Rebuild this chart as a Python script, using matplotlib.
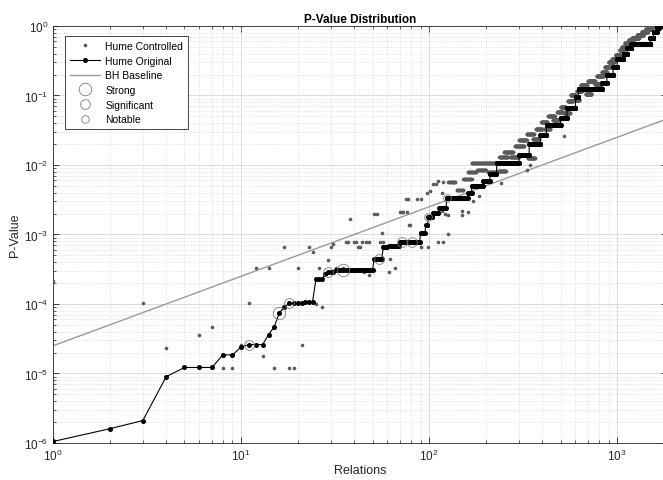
import numpy as np
import matplotlib
matplotlib.use("Agg")
import matplotlib.pyplot as plt
from matplotlib.lines import Line2D
from matplotlib.ticker import LogLocator, NullFormatter

plt.rcParams['font.family'] = ['Liberation Sans', 'DejaVu Sans']

# Hume Original: sorted p-values, written as (run length, level)
orig_counts = [1, 1, 1, 1, 3, 2, 1, 3, 1, 1, 1, 1, 4, 3, 3, 1, 3, 19, 6, 4, 9, 20,
               6, 3, 6, 8, 11, 37, 8, 25, 17, 18, 72, 40, 50, 30, 80, 40, 60, 22,
               208, 50, 70, 50, 80, 50, 60, 310, 60, 60, 40, 180]
orig_levels = [1.05e-6, 1.6e-6, 2.1e-6, 9.0e-6, 1.22e-5, 1.85e-5, 2.4e-5, 2.6e-5,
               3.6e-5, 4.7e-5, 7.5e-5, 9.0e-5, 1.02e-4, 1.08e-4, 2.25e-4, 2.7e-4,
               2.9e-4, 3.1e-4, 4.4e-4, 6.5e-4, 6.9e-4, 7.7e-4, 1.05e-3, 1.35e-3,
               1.8e-3, 2.05e-3, 2.4e-3, 3.3e-3, 4.0e-3, 4.9e-3, 5.8e-3, 7.5e-3,
               1.05e-2, 1.4e-2, 2.0e-2, 2.7e-2, 3.7e-2, 4.8e-2, 6.5e-2, 9.5e-2,
               0.125, 0.15, 0.2, 0.26, 0.33, 0.4, 0.48, 0.55, 0.68, 0.82, 0.92, 1.0]

# Hume Controlled: isolated points
ctrl_x = [1, 3, 4, 6, 7, 8, 9, 10, 11, 12, 13, 14, 15, 17, 18, 19, 20, 21, 23, 24,
          25, 26, 27, 29, 30, 31, 32, 35, 36, 37, 38, 40, 41, 42, 43, 44, 45, 46,
          48, 48, 51, 53, 55, 56, 57, 61, 62, 66, 70, 72, 73, 75, 76, 77, 78, 79,
          86, 90, 91, 97, 99, 101, 105, 109, 112, 112, 117, 117, 119, 119, 121,
          126, 126, 134, 149, 150, 160, 172, 185, 240, 330, 345, 520]
ctrl_y = [2.16e-4, 1.02e-4, 2.3e-5, 3.6e-5, 4.7e-5, 1.2e-5, 1.2e-5, 2.6e-5, 1.02e-4,
          3.3e-4, 1.8e-5, 3.3e-4, 1.2e-5, 6.5e-4, 1.2e-5, 1.2e-5, 3.3e-4, 2.55e-5,
          6.5e-4, 5.5e-4, 1.0e-4, 3.3e-4, 9.0e-5, 4.3e-4, 6.6e-4, 7.3e-4, 3.3e-4,
          3.3e-4, 7.7e-4, 7.7e-4, 1.67e-3, 7.7e-4, 7.7e-4, 6.6e-4, 6.7e-4, 7.7e-4,
          2.9e-4, 7.7e-4, 2.6e-4, 7.7e-4, 1.95e-3, 1.95e-3, 7.7e-4, 1.05e-3, 7.7e-4,
          2.9e-4, 4.5e-4, 3.3e-4, 2.1e-3, 2.1e-3, 2.1e-3, 3.2e-3, 2.1e-3, 3.2e-3,
          1.37e-3, 1.35e-3, 3.2e-3, 3.2e-3, 6.7e-4, 4.0e-3, 6.7e-4, 4.2e-3, 5.3e-3,
          5.3e-3, 7.7e-4, 5.9e-3, 2.2e-3, 4.0e-3, 7.7e-4, 5.6e-3, 2.0e-3, 1.9e-3,
          1.0e-3, 5.6e-3, 1.9e-3, 2.2e-3, 2.1e-3, 3.0e-3, 3.6e-3, 5.5e-3, 8.5e-3,
          1.0e-2, 2.6e-2]

# Hume Controlled: dense rows (first index, last index, p-value)
ctrl_row_start = [126, 140, 152, 160, 168, 180, 205, 232, 236, 250, 270, 285, 300,
                  335, 330, 355, 370, 395, 410, 430, 455, 480, 500, 520, 545, 565,
                  590, 610, 640, 680, 700, 760, 780, 830, 860, 900, 940, 980, 1030,
                  1060, 1100, 1150, 1200, 1280, 1350, 1420, 1480]
ctrl_row_end = [138, 152, 168, 178, 230, 200, 225, 255, 262, 280, 300, 320, 330,
                365, 360, 385, 400, 425, 440, 465, 490, 515, 530, 560, 580, 600,
                630, 650, 690, 730, 760, 820, 840, 880, 910, 960, 990, 1040, 1080,
                1120, 1160, 1220, 1300, 1380, 1450, 1520, 1840]
ctrl_row_level = [5.6e-3, 4.3e-3, 6.2e-3, 7.8e-3, 1.07e-2, 8.5e-3, 8.0e-3, 8.2e-3,
                  1.3e-2, 1.55e-2, 1.3e-2, 1.85e-2, 2.3e-2, 1.25e-2, 2.8e-2, 2.4e-2,
                  3.3e-2, 4.2e-2, 3.3e-2, 5.0e-2, 4.4e-2, 5.8e-2, 6.8e-2, 5.5e-2,
                  8.2e-2, 0.1, 0.085, 0.115, 0.14, 0.105, 0.16, 0.145, 0.19, 0.22,
                  0.26, 0.3, 0.34, 0.38, 0.45, 0.5, 0.56, 0.62, 0.68, 0.75, 0.82,
                  0.9, 1.0]

# BH baseline end points
bh_x = [1, 1840]
bh_y = [2.5e-5, 4.6e-2]

# highlighted relations (index into Hume Original)
strong_x = [16, 35]
signif_x = [11, 18, 29, 54, 72, 81]
notable_x = [99, 124]

orig_y = np.repeat(orig_levels, orig_counts)
orig_x = np.arange(1, len(orig_y) + 1)

cx = list(ctrl_x)
cy = list(ctrl_y)
for a, b, v in zip(ctrl_row_start, ctrl_row_end, ctrl_row_level):
    for i in range(a, b + 1):
        cx.append(i)
        cy.append(v)

fig = plt.figure(figsize=(6.63, 4.81), dpi=100)
ax = fig.add_axes([0.080, 0.077, 0.926, 0.867])

ax.plot(cx, cy, ls='none', marker='o', ms=2.6, mfc='#5a5a5a', mec='none', zorder=3)
ax.plot(orig_x, orig_y, color='black', lw=0.8, marker='o', ms=2.6, zorder=4)
ax.plot(bh_x, bh_y, color='#9a9a9a', lw=1.0, zorder=2)

circ = dict(ls='none', marker='o', mfc='none', mec='#7a7a7a', mew=0.6, zorder=5)
ax.plot(strong_x, orig_y[np.array(strong_x) - 1], ms=9, **circ)
ax.plot(signif_x, orig_y[np.array(signif_x) - 1], ms=7, **circ)
ax.plot(notable_x, orig_y[np.array(notable_x) - 1], ms=5.5, **circ)

ax.set_xscale('log')
ax.set_yscale('log')
ax.set_xlim(1, 1840)
ax.set_ylim(1e-6, 1)
ax.yaxis.set_major_locator(LogLocator(base=10, numticks=10))
ax.yaxis.set_minor_locator(LogLocator(base=10, subs=np.arange(2, 10), numticks=20))
ax.yaxis.set_minor_formatter(NullFormatter())
ax.xaxis.set_minor_formatter(NullFormatter())

ax.grid(True, which='major', color='#dadada', lw=0.7)
ax.grid(True, which='minor', color='#dedede', lw=0.6, ls=(0, (1.5, 1.5)))
ax.set_axisbelow(True)
ax.tick_params(which='both', direction='in', top=True, right=True,
               colors='#262626', labelcolor='#262626', labelsize=8.5)
ax.tick_params(which='major', length=4, width=0.6)
ax.tick_params(which='minor', length=2.2, width=0.5)
for s in ax.spines.values():
    s.set_color('#262626')
    s.set_linewidth(0.6)

ax.set_title('P-Value Distribution', fontsize=8.5, fontweight='bold', pad=3)
ax.set_xlabel('Relations', fontsize=9, color='#262626', labelpad=1)
ax.set_ylabel('P-Value', fontsize=9, color='#262626', labelpad=2)

handles = [
    Line2D([], [], ls='none', marker='o', ms=2.6, mfc='#5a5a5a', mec='none'),
    Line2D([], [], color='black', lw=0.8, marker='o', ms=2.6),
    Line2D([], [], color='#9a9a9a', lw=1.0),
    Line2D([], [], ls='none', marker='o', ms=9, mfc='none', mec='#7a7a7a', mew=0.6),
    Line2D([], [], ls='none', marker='o', ms=7, mfc='none', mec='#7a7a7a', mew=0.6),
    Line2D([], [], ls='none', marker='o', ms=5.5, mfc='none', mec='#7a7a7a', mew=0.6),
]
labels = ['Hume Controlled', 'Hume Original', 'BH Baseline', 'Strong', 'Significant', 'Notable']
leg = ax.legend(handles, labels, loc='upper left', bbox_to_anchor=(0.02, 0.975),
                fontsize=7.5, frameon=True, fancybox=False, framealpha=1,
                edgecolor='#262626', handlelength=2.9, handletextpad=0.5,
                borderpad=0.45, labelspacing=0.45, borderaxespad=0)
leg.get_frame().set_linewidth(0.6)

fig.savefig('out.png', dpi=100)
